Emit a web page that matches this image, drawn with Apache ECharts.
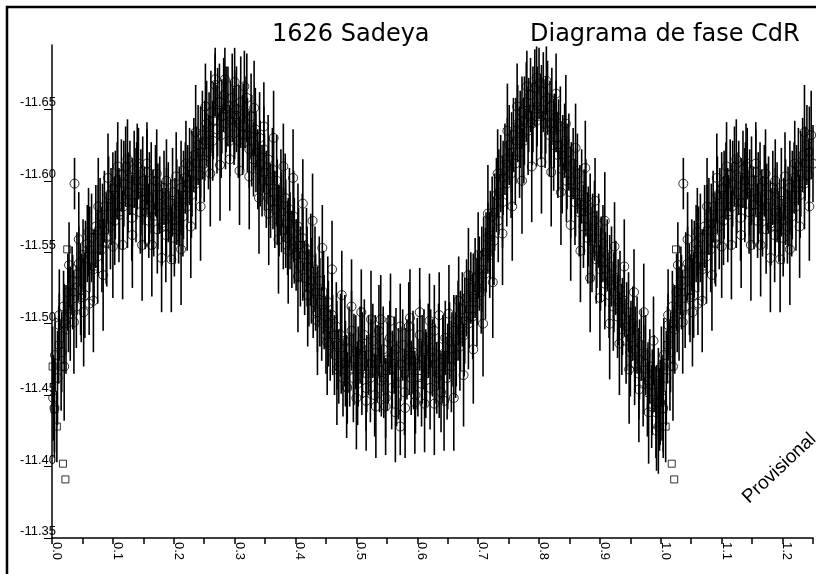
<!DOCTYPE html>
<html><head><meta charset="utf-8">
<script src="https://cdn.jsdelivr.net/npm/echarts@6/dist/echarts.min.js"></script>
<style>html,body{margin:0;padding:0;background:#fff}#c{width:816px;height:574px}</style>
</head><body><div id="c"></div>
<script>
const titleLeft = '1626 Sadeya';
const titleRight = 'Diagrama de fase CdR';
const watermark = 'Provisional';
const xLabelValues = [0.0,0.1,0.2,0.3,0.4,0.5,0.6,0.7,0.8,0.9,1.0,1.1,1.2];
const xTickValues = [0,0.05,0.1,0.15,0.2,0.25,0.3,0.35,0.4,0.45,0.5,0.55,0.6,0.65,0.7,0.75,0.8,0.85,0.9,0.95,1.0,1.05,1.1,1.15,1.2,1.25];
const yLabelValues = [-11.65,-11.60,-11.55,-11.50,-11.45,-11.40,-11.35];
const phaseMax = 1.25;

// [phase, magnitude, error]
const circleObs = [
[0.002,-11.448,.030],[0.005,-11.478,.026],[0.009,-11.462,.033],[0.012,-11.499,.022],[0.016,-11.480,.028],[0.019,-11.512,.025],
[0.023,-11.496,.031],[0.026,-11.522,.027],[0.030,-11.507,.033],[0.033,-11.530,.024],[0.037,-11.598,.018],[0.040,-11.512,.029],
[0.044,-11.542,.026],[0.047,-11.524,.032],[0.051,-11.548,.025],[0.054,-11.520,.030],[0.058,-11.556,.027],[0.061,-11.514,.022],
[0.065,-11.560,.031],[0.068,-11.538,.026],[0.072,-11.568,.029],[0.075,-11.547,.033],[0.079,-11.575,.027],[0.082,-11.552,.030],
[0.086,-11.582,.025],[0.089,-11.560,.032],[0.093,-11.590,.027],[0.096,-11.568,.030],[0.100,-11.594,.026],
[0.103,-11.572,.031],[0.107,-11.600,.027],[0.110,-11.576,.033],[0.114,-11.604,.025],[0.117,-11.582,.030],[0.121,-11.610,.028],
[0.124,-11.585,.032],[0.128,-11.602,.026],[0.131,-11.574,.030],[0.135,-11.608,.027],[0.138,-11.590,.033],[0.142,-11.612,.025],
[0.145,-11.578,.029],[0.149,-11.600,.031],[0.152,-11.583,.027],[0.156,-11.606,.030],[0.159,-11.572,.026],[0.163,-11.595,.032],
[0.166,-11.580,.028],[0.170,-11.600,.025],[0.173,-11.566,.031],[0.177,-11.590,.027],[0.180,-11.570,.030],[0.184,-11.595,.026],
[0.187,-11.562,.033],[0.191,-11.585,.028],[0.194,-11.568,.025],[0.198,-11.592,.031],
[0.201,-11.560,.027],[0.205,-11.585,.030],[0.208,-11.568,.026],[0.212,-11.595,.033],[0.215,-11.575,.028],[0.219,-11.602,.025],
[0.222,-11.582,.031],[0.226,-11.610,.027],[0.229,-11.590,.030],[0.233,-11.618,.026],[0.236,-11.598,.032],[0.240,-11.625,.028],
[0.243,-11.604,.025],[0.247,-11.632,.031],[0.250,-11.612,.027],[0.254,-11.640,.030],[0.257,-11.620,.026],[0.261,-11.648,.029],
[0.264,-11.628,.028],[0.268,-11.667,.022],[0.271,-11.636,.031],[0.275,-11.655,.027],[0.278,-11.632,.030],[0.282,-11.660,.026],
[0.285,-11.640,.032],[0.289,-11.652,.028],[0.292,-11.628,.025],[0.296,-11.658,.031],[0.299,-11.638,.027],
[0.303,-11.650,.030],[0.306,-11.628,.026],[0.310,-11.655,.032],[0.313,-11.632,.028],[0.317,-11.648,.025],[0.320,-11.658,.031],
[0.324,-11.622,.027],[0.327,-11.645,.030],[0.331,-11.615,.026],[0.334,-11.636,.029],[0.338,-11.608,.028],[0.341,-11.630,.032],
[0.345,-11.600,.025],[0.348,-11.622,.030],[0.352,-11.594,.027],[0.355,-11.615,.031],[0.359,-11.586,.026],[0.362,-11.608,.029],
[0.366,-11.580,.027],[0.369,-11.600,.032],[0.373,-11.572,.025],[0.376,-11.592,.030],[0.380,-11.566,.028],[0.383,-11.588,.031],
[0.387,-11.560,.026],[0.390,-11.580,.029],[0.394,-11.552,.027],[0.397,-11.575,.032],
[0.401,-11.548,.025],[0.404,-11.568,.030],[0.408,-11.540,.028],[0.411,-11.560,.031],[0.415,-11.532,.026],[0.418,-11.552,.029],
[0.422,-11.525,.027],[0.425,-11.545,.032],[0.429,-11.515,.025],[0.432,-11.538,.030],[0.436,-11.508,.028],[0.439,-11.530,.031],
[0.443,-11.500,.026],[0.446,-11.522,.029],[0.450,-11.492,.027],[0.453,-11.515,.032],[0.457,-11.485,.025],[0.460,-11.506,.030],
[0.464,-11.478,.028],[0.467,-11.498,.031],[0.471,-11.470,.026],[0.474,-11.492,.029],[0.478,-11.462,.027],[0.481,-11.488,.032],
[0.485,-11.455,.025],[0.488,-11.482,.030],[0.492,-11.495,.028],[0.495,-11.462,.031],[0.499,-11.480,.026],
[0.502,-11.458,.029],[0.506,-11.485,.027],[0.509,-11.468,.032],[0.513,-11.492,.025],[0.516,-11.455,.030],[0.520,-11.478,.028],
[0.523,-11.462,.031],[0.527,-11.488,.026],[0.530,-11.450,.029],[0.534,-11.472,.027],[0.537,-11.495,.032],[0.541,-11.460,.025],
[0.544,-11.482,.030],[0.548,-11.448,.028],[0.551,-11.470,.031],[0.555,-11.490,.026],[0.558,-11.455,.029],[0.562,-11.478,.027],
[0.565,-11.482,.029],[0.569,-11.465,.032],[0.572,-11.428,.020],[0.576,-11.485,.025],[0.579,-11.452,.030],[0.583,-11.475,.028],
[0.586,-11.498,.031],[0.590,-11.462,.026],[0.593,-11.480,.029],[0.597,-11.450,.027],[0.600,-11.472,.032],[0.604,-11.492,.025],
[0.607,-11.458,.030],[0.611,-11.482,.028],[0.614,-11.465,.031],[0.618,-11.488,.026],[0.621,-11.455,.029],[0.625,-11.476,.027],
[0.628,-11.495,.032],[0.632,-11.462,.025],[0.635,-11.484,.030],[0.639,-11.452,.028],[0.642,-11.475,.031],[0.646,-11.490,.026],
[0.649,-11.462,.029],[0.653,-11.488,.027],[0.656,-11.470,.032],[0.660,-11.495,.025],[0.663,-11.478,.030],[0.667,-11.502,.028],
[0.670,-11.484,.031],[0.674,-11.510,.026],[0.677,-11.492,.029],[0.681,-11.518,.027],[0.684,-11.500,.032],[0.688,-11.525,.025],
[0.691,-11.505,.030],[0.695,-11.532,.028],[0.698,-11.515,.031],
[0.702,-11.535,.026],[0.705,-11.522,.029],[0.709,-11.548,.027],[0.712,-11.535,.032],[0.716,-11.560,.025],[0.719,-11.548,.030],
[0.723,-11.575,.028],[0.726,-11.558,.031],[0.730,-11.590,.026],[0.733,-11.572,.029],[0.737,-11.605,.027],[0.740,-11.585,.032],
[0.744,-11.615,.025],[0.747,-11.598,.030],[0.751,-11.625,.028],[0.754,-11.605,.031],[0.758,-11.632,.026],[0.761,-11.612,.029],
[0.765,-11.640,.027],[0.768,-11.620,.032],[0.772,-11.648,.025],[0.775,-11.628,.030],[0.779,-11.655,.028],[0.782,-11.635,.031],
[0.786,-11.660,.026],[0.789,-11.640,.029],[0.793,-11.665,.027],[0.796,-11.642,.032],[0.800,-11.668,.025],
[0.803,-11.645,.030],[0.807,-11.662,.028],[0.810,-11.640,.031],[0.814,-11.658,.026],[0.817,-11.632,.029],[0.821,-11.652,.027],
[0.824,-11.625,.032],[0.828,-11.645,.025],[0.831,-11.618,.030],[0.835,-11.638,.028],[0.838,-11.608,.031],[0.842,-11.628,.026],
[0.845,-11.600,.029],[0.849,-11.620,.027],[0.852,-11.592,.032],[0.856,-11.612,.025],[0.859,-11.585,.030],[0.863,-11.605,.028],
[0.866,-11.578,.031],[0.870,-11.596,.026],[0.873,-11.568,.029],[0.877,-11.588,.027],[0.880,-11.560,.032],[0.884,-11.580,.025],
[0.887,-11.552,.030],[0.891,-11.572,.028],[0.894,-11.545,.031],[0.898,-11.565,.026],
[0.901,-11.538,.029],[0.905,-11.556,.027],[0.908,-11.528,.032],[0.912,-11.548,.025],[0.915,-11.520,.030],[0.919,-11.540,.028],
[0.922,-11.512,.031],[0.926,-11.532,.026],[0.929,-11.505,.029],[0.933,-11.524,.027],[0.936,-11.496,.032],[0.940,-11.516,.025],
[0.943,-11.488,.030],[0.947,-11.508,.028],[0.950,-11.480,.031],[0.954,-11.500,.026],[0.957,-11.472,.029],[0.961,-11.492,.027],
[0.964,-11.465,.032],[0.968,-11.485,.025],[0.971,-11.458,.030],[0.975,-11.478,.028],[0.978,-11.452,.031],[0.982,-11.470,.026],
[0.985,-11.442,.029],[0.989,-11.465,.027],[0.992,-11.438,.032],[0.993,-11.425,.028],[0.996,-11.458,.025],[0.999,-11.445,.030]
];

// a second, noisier set of circle observations
const circleObs2 = [
[0.004,-11.441,.035],[0.012,-11.506,.032],[0.020,-11.470,.038],[0.028,-11.541,.030],[0.036,-11.501,.036],[0.044,-11.559,.033],
[0.052,-11.508,.038],[0.060,-11.564,.031],[0.068,-11.516,.036],[0.076,-11.582,.034],[0.084,-11.534,.039],[0.092,-11.602,.031],
[0.100,-11.554,.036],[0.108,-11.610,.031],[0.116,-11.555,.038],[0.124,-11.615,.028],[0.132,-11.562,.037],[0.140,-11.610,.030],
[0.148,-11.555,.039],[0.156,-11.612,.029],[0.164,-11.555,.036],[0.172,-11.605,.031],[0.180,-11.546,.038],[0.188,-11.600,.029],
[0.196,-11.545,.037],[0.204,-11.603,.031],[0.212,-11.552,.039],[0.220,-11.612,.030],[0.228,-11.568,.036],[0.236,-11.634,.033],
[0.244,-11.582,.038],[0.252,-11.652,.030],[0.260,-11.605,.037],[0.268,-11.671,.022],[0.276,-11.611,.039],[0.284,-11.671,.022],
[0.292,-11.615,.036],[0.300,-11.669,.024],[0.308,-11.607,.038],[0.316,-11.666,.025],[0.324,-11.603,.037],[0.332,-11.651,.033],
[0.340,-11.588,.039],[0.348,-11.638,.031],[0.356,-11.577,.036],[0.364,-11.630,.033],[0.372,-11.559,.038],[0.380,-11.610,.030],
[0.388,-11.551,.037],[0.396,-11.602,.034],[0.404,-11.533,.039],[0.412,-11.584,.031],[0.420,-11.520,.036],[0.428,-11.572,.033],
[0.436,-11.502,.038],[0.444,-11.553,.030],[0.452,-11.487,.037],[0.460,-11.538,.034],[0.468,-11.468,.039],[0.476,-11.520,.031],
[0.484,-11.456,.036],[0.492,-11.512,.033],[0.500,-11.448,.036],[0.508,-11.508,.030],[0.516,-11.446,.035],[0.524,-11.503,.034],
[0.532,-11.442,.036],[0.540,-11.503,.031],[0.548,-11.442,.034],[0.556,-11.502,.033],[0.564,-11.438,.035],[0.572,-11.498,.030],
[0.580,-11.441,.035],[0.588,-11.504,.034],[0.596,-11.445,.036],[0.604,-11.508,.031],[0.612,-11.444,.034],[0.620,-11.502,.033],
[0.628,-11.444,.036],[0.636,-11.506,.030],[0.644,-11.446,.035],[0.652,-11.507,.034],[0.660,-11.448,.037],[0.668,-11.516,.031],
[0.676,-11.464,.036],[0.684,-11.534,.033],[0.692,-11.482,.038],[0.700,-11.548,.030],[0.708,-11.500,.037],[0.716,-11.577,.034],
[0.724,-11.529,.039],[0.732,-11.605,.031],[0.740,-11.563,.036],[0.748,-11.635,.033],[0.756,-11.582,.038],[0.764,-11.652,.030],
[0.772,-11.600,.037],[0.780,-11.666,.025],[0.788,-11.610,.039],[0.796,-11.672,.022],[0.804,-11.613,.036],[0.812,-11.670,.024],
[0.820,-11.606,.038],[0.828,-11.661,.028],[0.836,-11.592,.037],[0.844,-11.640,.034],[0.852,-11.569,.039],[0.860,-11.623,.031],
[0.868,-11.551,.036],[0.876,-11.609,.033],[0.884,-11.532,.038],[0.892,-11.586,.030],[0.900,-11.518,.037],[0.908,-11.572,.034],
[0.916,-11.500,.039],[0.924,-11.554,.031],[0.932,-11.486,.036],[0.940,-11.540,.033],[0.948,-11.468,.038],[0.956,-11.522,.030],
[0.964,-11.454,.037],[0.972,-11.508,.034],[0.980,-11.438,.036],[0.988,-11.488,.031],[0.996,-11.428,.033]
];

const squareObs = [
[0.001,-11.470,.028],[0.004,-11.440,.030],[0.008,-11.428,.025],[0.011,-11.485,.027],[0.015,-11.470,.031],[0.018,-11.402,0],
[0.020,-11.500,.028],[0.022,-11.391,0],[0.025,-11.552,0],[0.027,-11.510,.030],[0.034,-11.522,.026],[0.041,-11.535,.029],
[0.048,-11.518,.031],[0.055,-11.545,.027],[0.062,-11.552,.030],[0.069,-11.540,.026],[0.076,-11.565,.032],[0.083,-11.570,.028],
[0.090,-11.556,.030],[0.097,-11.582,.027],
[0.104,-11.590,.031],[0.111,-11.578,.026],[0.118,-11.598,.030],[0.125,-11.592,.028],[0.132,-11.585,.031],[0.139,-11.600,.027],
[0.146,-11.592,.030],[0.153,-11.578,.026],[0.160,-11.588,.032],[0.167,-11.575,.028],[0.174,-11.582,.030],[0.181,-11.568,.027],
[0.188,-11.578,.031],[0.195,-11.575,.026],
[0.202,-11.572,.030],[0.209,-11.582,.028],[0.216,-11.590,.031],[0.223,-11.598,.027],[0.230,-11.605,.030],[0.237,-11.612,.026],
[0.244,-11.620,.032],[0.251,-11.628,.028],[0.258,-11.632,.030],[0.265,-11.642,.027],[0.272,-11.648,.031],[0.279,-11.645,.026],
[0.286,-11.650,.030],[0.293,-11.642,.028],
[0.300,-11.646,.031],[0.307,-11.640,.027],[0.314,-11.638,.030],[0.321,-11.632,.026],[0.328,-11.628,.032],[0.335,-11.620,.028],
[0.342,-11.612,.030],[0.349,-11.606,.027],[0.356,-11.600,.031],[0.363,-11.592,.026],[0.370,-11.585,.030],[0.377,-11.578,.028],
[0.384,-11.570,.031],[0.391,-11.565,.027],[0.398,-11.558,.030],
[0.405,-11.555,.026],[0.412,-11.548,.032],[0.419,-11.540,.028],[0.426,-11.530,.030],[0.433,-11.522,.027],[0.440,-11.515,.031],
[0.447,-11.508,.026],[0.454,-11.500,.030],[0.461,-11.492,.028],[0.468,-11.485,.031],[0.475,-11.478,.027],[0.482,-11.472,.030],
[0.489,-11.468,.026],[0.496,-11.475,.032],
[0.503,-11.470,.028],[0.510,-11.478,.030],[0.517,-11.465,.027],[0.524,-11.472,.031],[0.531,-11.480,.026],[0.538,-11.468,.030],
[0.545,-11.462,.028],[0.552,-11.475,.031],[0.559,-11.468,.027],[0.566,-11.458,.030],[0.573,-11.472,.026],[0.580,-11.465,.032],
[0.587,-11.478,.028],[0.594,-11.470,.030],[0.601,-11.462,.027],[0.608,-11.475,.031],[0.615,-11.468,.026],[0.622,-11.480,.030],
[0.629,-11.472,.028],[0.636,-11.465,.031],[0.643,-11.478,.027],[0.650,-11.470,.030],[0.657,-11.482,.026],[0.664,-11.488,.032],
[0.671,-11.495,.028],[0.678,-11.502,.030],[0.685,-11.510,.027],[0.692,-11.518,.031],[0.699,-11.525,.026],
[0.706,-11.538,.030],[0.713,-11.550,.028],[0.720,-11.562,.031],[0.727,-11.578,.027],[0.734,-11.592,.030],[0.741,-11.602,.026],
[0.748,-11.612,.032],[0.755,-11.620,.028],[0.762,-11.628,.030],[0.769,-11.636,.027],[0.776,-11.642,.031],[0.783,-11.646,.026],
[0.790,-11.650,.030],[0.797,-11.652,.028],
[0.804,-11.650,.031],[0.811,-11.646,.027],[0.818,-11.640,.030],[0.825,-11.635,.026],[0.832,-11.625,.032],[0.839,-11.618,.028],
[0.846,-11.610,.030],[0.853,-11.600,.027],[0.860,-11.592,.031],[0.867,-11.585,.026],[0.874,-11.578,.030],[0.881,-11.568,.028],
[0.888,-11.560,.031],[0.895,-11.552,.027],
[0.902,-11.545,.030],[0.909,-11.538,.026],[0.916,-11.530,.032],[0.923,-11.522,.028],[0.930,-11.515,.030],[0.937,-11.505,.027],
[0.944,-11.498,.031],[0.951,-11.490,.026],[0.958,-11.482,.030],[0.965,-11.475,.028],[0.972,-11.468,.031],[0.979,-11.460,.027],
[0.986,-11.452,.030],[0.993,-11.445,.026],[0.998,-11.440,.029]
];

// phase diagram repeats the first part of the cycle beyond phase 1
function withRepeat(list){
  return list.concat(list.filter(p => p[0] + 1 <= phaseMax).map(p => [Math.round((p[0] + 1) * 1000) / 1000, p[1], p[2]]));
}
const circles = withRepeat(circleObs.concat(circleObs2));
const squares = withRepeat(squareObs);

function errRender(params, api){
  const x = api.value(0), y = api.value(1), e = api.value(2);
  if (!e) return null;
  const a = api.coord([x, y - e]), b = api.coord([x, y + e]);
  return {type:'line', shape:{x1:a[0], y1:a[1], x2:b[0], y2:b[1]}, style:{stroke:'#000', lineWidth:1.6}};
}

const FONT = '"Liberation Sans", Arial, sans-serif';
const TFONT = '"DejaVu Sans", sans-serif';
const chart = echarts.init(document.getElementById('c'), null, {renderer:'canvas'});
chart.setOption({
  animation:false,
  backgroundColor:'#fff',
  title:[
    {text:titleLeft, left:272, top:23, padding:0, textStyle:{fontSize:24, fontWeight:'normal', color:'#000', fontFamily:TFONT}},
    {text:titleRight, left:530, top:23, padding:0, textStyle:{fontSize:24, fontWeight:'normal', color:'#000', fontFamily:TFONT}}
  ],
  grid:{left:52, right:3, top:45, bottom:36, containLabel:false},
  xAxis:{
    type:'value', min:0, max:phaseMax,
    axisLine:{onZero:false, lineStyle:{color:'#000', width:1.5}},
    axisTick:{customValues:xTickValues, length:6, lineStyle:{color:'#000', width:1.5}},
    axisLabel:{customValues:xLabelValues, rotate:-90, margin:4, verticalAlign:'bottom', lineHeight:9, color:'#000', fontSize:13, fontFamily:FONT, formatter:v => v.toFixed(1)},
    splitLine:{show:false}
  },
  yAxis:{
    type:'value', inverse:true, min:-11.695, max:-11.35,
    axisLine:{show:true, onZero:false, lineStyle:{color:'#000', width:1.5}},
    axisTick:{show:true, customValues:yLabelValues, length:8, lineStyle:{color:'#000', width:1}},
    axisLabel:{customValues:yLabelValues, margin:-4, verticalAlign:'bottom', color:'#000', fontSize:13, fontFamily:FONT, formatter:v => v.toFixed(2)},
    splitLine:{show:false}
  },
  series:[
    {type:'custom', renderItem:errRender, data:squares, encode:{x:0, y:1}, z:2},
    {type:'custom', renderItem:errRender, data:circles, encode:{x:0, y:1}, z:2},
    {type:'scatter', data:squares, symbol:'rect', symbolSize:7, itemStyle:{color:'rgba(0,0,0,0)', borderColor:'#000', borderWidth:1}, z:3},
    {type:'scatter', data:circles, symbol:'circle', symbolSize:9, itemStyle:{color:'rgba(0,0,0,0)', borderColor:'#000', borderWidth:1}, z:3}
  ],
  graphic:[
    {type:'rect', shape:{x:7, y:7, width:900, height:700}, style:{fill:'none', stroke:'#000', lineWidth:2.5}, silent:true, z:100},
    {type:'text', x:752, y:507, rotation:Math.PI * 0.24, silent:true, z:100,
     style:{text:watermark, font:'19px ' + FONT, fill:'#000', textVerticalAlign:'bottom'}}
  ]
});
</script></body></html>
